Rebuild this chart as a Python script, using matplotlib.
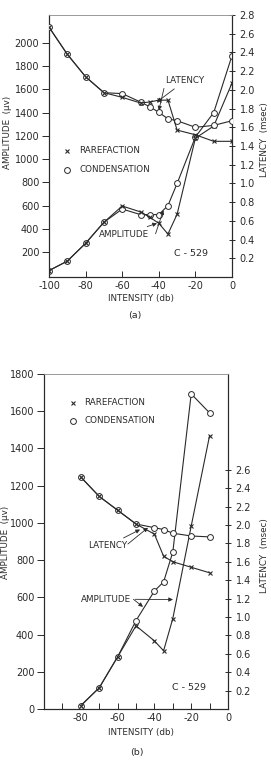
import matplotlib.pyplot as plt
from matplotlib.ticker import FixedLocator

plt.rcParams['font.family'] = ['DejaVu Sans']

# ---- panel (a) ----
db_a = [-100, -90, -80, -70, -60, -50, -45, -40, -35, -30, -20, -10, 0]
amp_a_cond = [40, 122, 275, 456, 570, 522, 522, 522, 600, 790, 1190, 1400, 1890]
amp_a_rare = [40, 122, 275, 456, 596, 545, 500, 447, 355, 525, 1180, 1284, 1654]
lat_a_cond = [2.67, 2.38, 2.14, 1.97, 1.96, 1.87, 1.82, 1.76, 1.69, 1.67, 1.60, 1.62, 1.67]
lat_a_rare = [2.67, 2.38, 2.14, 1.97, 1.92, 1.86, 1.87, 1.89, 1.89, 1.57, 1.52, 1.45, 1.45]

# ---- panel (b) ----
db_b = [-80, -70, -60, -50, -40, -35, -30, -20, -10]
amp_b_cond = [18, 114, 280, 475, 634, 683, 843, 1693, 1591]
amp_b_rare = [18, 114, 280, 447, 366, 313, 486, 983, 1469]
lat_b_cond = [2.52, 2.31, 2.16, 2.01, 1.97, 1.95, 1.91, 1.88, 1.87]
lat_b_rare = [2.52, 2.31, 2.16, 2.01, 1.90, 1.66, 1.60, 1.54, 1.48]

amp_ticks_a = [200, 400, 600, 800, 1000, 1200, 1400, 1600, 1800, 2000]
lat_ticks_a = [0.2, 0.4, 0.6, 0.8, 1.0, 1.2, 1.4, 1.6, 1.8, 2.0, 2.2, 2.4, 2.6, 2.8]
amp_ticks_b = [0, 200, 400, 600, 800, 1000, 1200, 1400, 1600, 1800]
lat_ticks_b = [0.2, 0.4, 0.6, 0.8, 1.0, 1.2, 1.4, 1.6, 1.8, 2.0, 2.2, 2.4, 2.6]
x_ticks_a = [-100, -80, -60, -40, -20, 0]
x_ticks_b = [-80, -60, -40, -20, 0]

INK = '#2a2a2a'
TICKFONT = dict(family=['Liberation Sans Narrow', 'DejaVu Sans'], size=7)
FS = 6.3

fig = plt.figure(figsize=(2.71, 7.6), dpi=100)


def draw_pair(ax, ax2, x, ac, ar, lc, lr):
    ax.plot(x, ac, color=INK, lw=0.8, marker='o', ms=4.2, mfc='white',
            mec=INK, mew=0.7, zorder=3)
    ax.plot(x, ar, color=INK, lw=0.8, marker='x', ms=2.6, mew=0.8, zorder=4)
    ax2.plot(x, lc, color=INK, lw=0.8, marker='o', ms=4.2, mfc='white',
             mec=INK, mew=0.7, zorder=3)
    ax2.plot(x, lr, color=INK, lw=0.8, marker='x', ms=2.6, mew=0.8, zorder=4)


def style(ax, ax2, xt, at, lt):
    for a in (ax, ax2):
        for s in a.spines.values():
            s.set_color(INK)
            s.set_linewidth(0.8)
        a.spines['top'].set_color('#9a9a9a')
        a.spines['top'].set_linewidth(0.6)
    ax.set_xticks(xt)
    ax.set_xticklabels([str(v) for v in xt], **TICKFONT)
    ax.set_yticks(at)
    ax.set_yticklabels([str(v) for v in at], **TICKFONT)
    ax2.set_yticks(lt)
    ax2.set_yticklabels([f'{v:.1f}' for v in lt], **TICKFONT)
    ax.tick_params(axis='x', direction='in', length=4, width=0.7, pad=3, colors=INK)
    ax.tick_params(axis='y', direction='out', length=5, width=0.7, pad=2, colors=INK)
    ax2.tick_params(axis='y', direction='inout', length=5, width=0.7, pad=3, colors=INK)


def legend(ax, y1, y2, x0, xt):
    ax.plot([x0], [y1], transform=ax.transAxes, marker='x', ms=2.6, mew=0.8,
            color=INK, ls='none')
    ax.plot([x0], [y2], transform=ax.transAxes, marker='o', ms=4.2, mfc='white',
            mec=INK, mew=0.7, ls='none')
    ax.text(xt, y1, 'RAREFACTION', transform=ax.transAxes, fontsize=FS,
            va='center', ha='left', color=INK)
    ax.text(xt, y2, 'CONDENSATION', transform=ax.transAxes, fontsize=FS,
            va='center', ha='left', color=INK)


def side_labels(xl, yl, xr, yr):
    fig.text(xl / 271, 1 - yl / 760, 'AMPLITUDE  (\u03bcv)', rotation=90,
             fontsize=FS, ha='center', va='center', color=INK)
    fig.text(xr / 271, 1 - yr / 760, 'LATENCY  (msec)', rotation=90,
             fontsize=FS, ha='center', va='center', color=INK)


arrow = dict(arrowstyle='-|>', color=INK, lw=0.6, mutation_scale=6,
             shrinkA=1, shrinkB=0)

# ---------- (a) ----------
axa = fig.add_axes([49 / 271, 1 - 277 / 760, 183 / 271, 262 / 760])
axa2 = axa.twinx()
axa.set_xlim(-100, 0)
axa.set_ylim(-15, 2240)
axa2.set_ylim(0, 2.8)
draw_pair(axa, axa2, db_a, amp_a_cond, amp_a_rare, lat_a_cond, lat_a_rare)
style(axa, axa2, x_ticks_a, amp_ticks_a, lat_ticks_a)
side_labels(8, 132, 265, 140)
legend(axa, 0.482, 0.41, 0.098, 0.165)
axa2.annotate('LATENCY', xy=(-41, 1.87), xytext=(0.743, 0.749),
              textcoords='axes fraction', fontsize=FS, ha='center', va='center',
              color=INK, arrowprops=arrow)
axa2.annotate('', xy=(-40, 1.78), xytext=(0.63, 0.725),
              textcoords='axes fraction', arrowprops=arrow)
axa.annotate('AMPLITUDE', xy=(-41, 447), xytext=(0.41, 0.163),
             textcoords='axes fraction', fontsize=FS, ha='center', va='center',
             color=INK, arrowprops=arrow)
axa.annotate('', xy=(-37.5, 560), xytext=(0.58, 0.16),
             textcoords='axes fraction', arrowprops=arrow)
axa.text(0.776, 0.09, 'C - 529', transform=axa.transAxes, fontsize=FS + 0.5,
         ha='center', va='center', color=INK)
fig.text(141 / 271, 1 - 298 / 760, 'INTENSITY (db)', fontsize=FS,
         ha='center', va='center', color=INK)
fig.text(135 / 271, 1 - 316 / 760, '(a)', fontsize=FS + 0.5,
         ha='center', va='center', color=INK)

# ---------- (b) ----------
axb = fig.add_axes([44 / 271, 1 - 709 / 760, 184 / 271, 335 / 760])
axb2 = axb.twinx()
axb.set_xlim(-100, 0)
axb.set_ylim(0, 1800)
axb2.set_ylim(0, 3.64)
draw_pair(axb, axb2, db_b, amp_b_cond, amp_b_rare, lat_b_cond, lat_b_rare)
style(axb, axb2, x_ticks_b, amp_ticks_b, lat_ticks_b)
axb.xaxis.set_minor_locator(FixedLocator([-90, -70, -50, -30, -10]))
axb.tick_params(axis='x', which='minor', direction='in', length=4, width=0.7,
                colors=INK)
side_labels(5.5, 542, 265, 556)
legend(axb, 0.914, 0.86, 0.158, 0.22)
axb2.annotate('LATENCY', xy=(-47.8, 1.95), xytext=(0.348, 0.487),
              textcoords='axes fraction', fontsize=FS, ha='center', va='center',
              color=INK, arrowprops=arrow)
axb2.annotate('', xy=(-43.5, 1.97), xytext=(0.45, 0.49),
              textcoords='axes fraction', arrowprops=arrow)
axb.annotate('AMPLITUDE', xy=(-29.9, 588), xytext=(0.337, 0.328),
             textcoords='axes fraction', fontsize=FS, ha='center', va='center',
             color=INK, arrowprops=arrow)
axb.annotate('', xy=(-46.2, 549), xytext=(0.48, 0.33),
             textcoords='axes fraction', arrowprops=arrow)
axb.text(0.788, 0.064, 'C - 529', transform=axb.transAxes, fontsize=FS + 0.5,
         ha='center', va='center', color=INK)
fig.text(141 / 271, 1 - 732.7 / 760, 'INTENSITY (db)', fontsize=FS,
         ha='center', va='center', color=INK)
fig.text(137 / 271, 1 - 753 / 760, '(b)', fontsize=FS + 0.5,
         ha='center', va='center', color=INK)

fig.savefig('out.png', dpi=100, facecolor='white')
